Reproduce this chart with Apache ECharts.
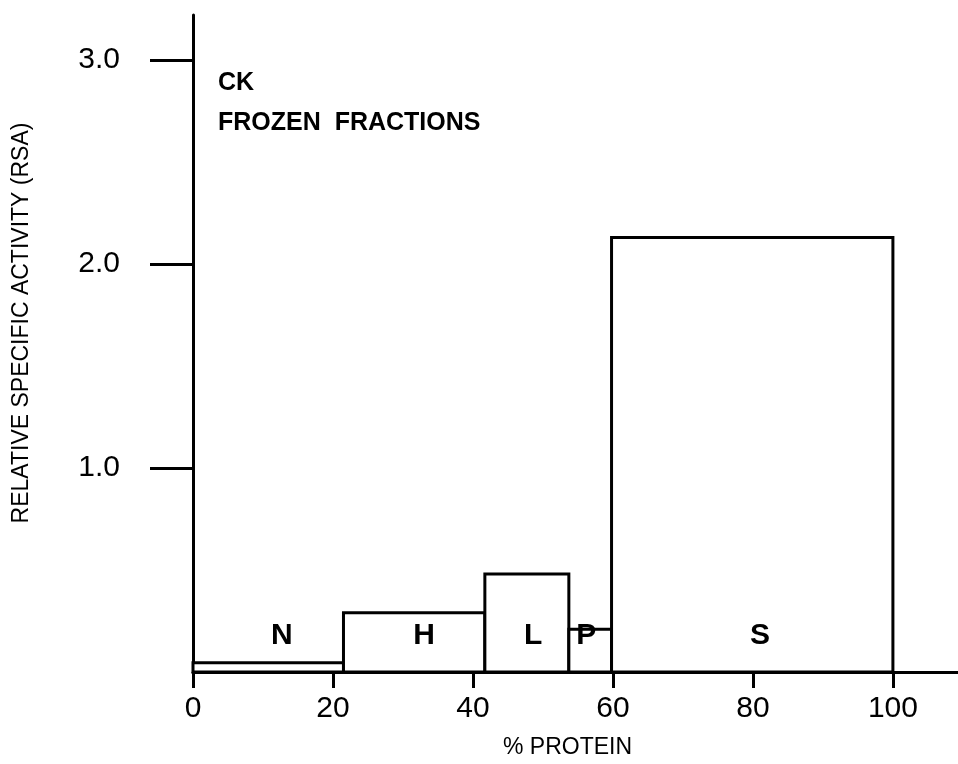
<!DOCTYPE html>
<html>
<head>
<meta charset="utf-8">
<script src="https://cdn.jsdelivr.net/npm/echarts@6/dist/echarts.min.js"></script>
<style>
html,body{margin:0;padding:0;background:#fff;}
#chart{width:958px;height:764px;}
</style>
</head>
<body>
<div id="chart"></div>
<script>
// Fractions (bar name, start/end of cumulative % protein, relative specific activity)
const fractions = ['N', 'H', 'L', 'P', 'S'];
const startPct = [0, 21.5, 41.7, 53.7, 59.8];
const endPct = [21.5, 41.7, 53.7, 59.8, 100];
const rsa = [0.045, 0.29, 0.48, 0.21, 2.13];
// where each fraction letter is written (in % protein) and its RSA height
const labelPct = [12.7, 33, 48.6, 56.2, 81];
const labelRsa = 0.18;
const xTicks = [0, 20, 40, 60, 80, 100];
const yTicks = [1, 2, 3];
const yTickLabels = ['1.0', '2.0', '3.0'];

const FONT = '"Liberation Sans", Arial, Helvetica, sans-serif';
const chart = echarts.init(document.getElementById('chart'));

const barData = fractions.map((f, i) => [startPct[i], endPct[i], rsa[i], f]);
const labelData = fractions.map((f, i) => [labelPct[i], labelRsa, f]);

chart.setOption({
  animation: false,
  backgroundColor: '#fff',
  grid: { left: 193, right: 0, top: 15, bottom: 90 },
  xAxis: {
    type: 'value', min: 0, max: 109.3,
    splitLine: { show: false },
    axisLine: { show: true, lineStyle: { color: '#000', width: 3 } },
    axisTick: { show: true, customValues: xTicks, length: 16, inside: false, lineStyle: { color: '#000', width: 3 } },
    axisLabel: { customValues: xTicks, margin: 22, color: '#000', fontSize: 30, fontFamily: FONT },
    name: '% PROTEIN', nameLocation: 'middle', nameGap: 64,
    nameTextStyle: { color: '#000', fontSize: 23, fontFamily: FONT, padding: [0, 16, 0, 0] }
  },
  yAxis: {
    type: 'value', min: 0, max: 3.22,
    splitLine: { show: false },
    axisLine: { show: true, lineStyle: { color: '#000', width: 3 } },
    axisTick: { show: true, customValues: yTicks, length: 43, lineStyle: { color: '#000', width: 3 } },
    axisLabel: {
      customValues: yTicks, margin: 73, color: '#000', fontSize: 30, fontFamily: FONT,
      formatter: v => yTickLabels[yTicks.indexOf(Math.round(v))] || ''
    }
  },
  graphic: [
    { type: 'text', x: 22, y: 323, rotation: Math.PI / 2,
      style: { text: 'RELATIVE SPECIFIC ACTIVITY (RSA)', fill: '#000', font: '23px ' + FONT, align: 'center', verticalAlign: 'middle' } },
    { type: 'text', x: 218, y: 83,
      style: { text: 'CK', fill: '#000', font: 'bold 25px ' + FONT, align: 'left', verticalAlign: 'middle' } },
    { type: 'text', x: 218, y: 123,
      style: { text: 'FROZEN  FRACTIONS', fill: '#000', font: 'bold 25px ' + FONT, align: 'left', verticalAlign: 'middle' } }
  ],
  series: [
    {
      type: 'custom',
      data: barData,
      encode: { x: [0, 1], y: 2 },
      renderItem: function (params, api) {
        const p0 = api.coord([api.value(0), api.value(2)]);
        const p1 = api.coord([api.value(1), 0]);
        return {
          type: 'rect',
          shape: { x: p0[0], y: p0[1], width: p1[0] - p0[0], height: p1[1] - p0[1] },
          style: { fill: '#fff', stroke: '#000', lineWidth: 3 }
        };
      },
      z: 1
    },
    {
      type: 'scatter',
      data: labelData,
      symbolSize: 0,
      itemStyle: { opacity: 1 },
      label: {
        show: true, position: 'inside', formatter: p => p.value[2],
        color: '#000', fontSize: 30, fontWeight: 'bold', fontFamily: FONT
      },
      z: 3
    }
  ]
});
</script>
</body>
</html>
